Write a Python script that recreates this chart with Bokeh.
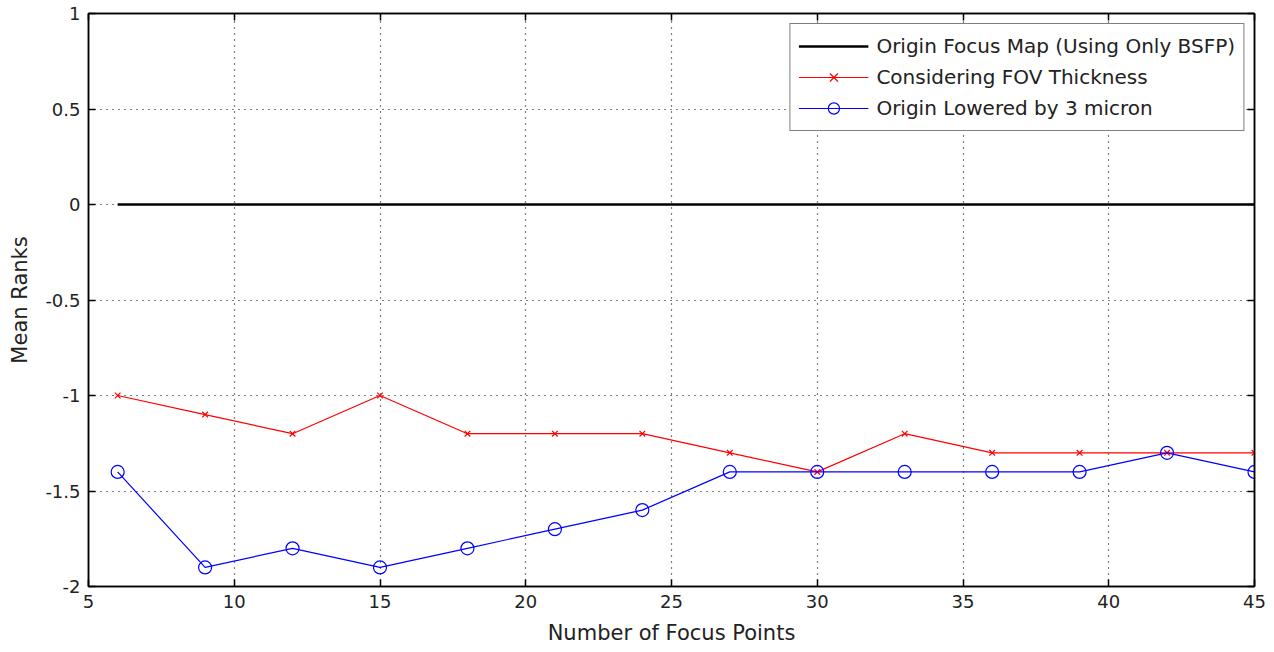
from bokeh.plotting import figure
from bokeh.models import Range1d, LinearAxis, FixedTicker, Legend, LegendItem
from bokeh.embed import file_html
from bokeh.resources import INLINE

focus_points = [6, 9, 12, 15, 18, 21, 24, 27, 30, 33, 36, 39, 42, 45]
origin_map = [0, 0, 0, 0, 0, 0, 0, 0, 0, 0, 0, 0, 0, 0]
fov_thickness = [-1.0, -1.1, -1.2, -1.0, -1.2, -1.2, -1.2, -1.3, -1.4, -1.2, -1.3, -1.3, -1.3, -1.3]
origin_lowered = [-1.4, -1.9, -1.8, -1.9, -1.8, -1.7, -1.6, -1.4, -1.4, -1.4, -1.4, -1.4, -1.3, -1.4]

x_ticks = [5, 10, 15, 20, 25, 30, 35, 40, 45]
y_ticks = [-2, -1.5, -1, -0.5, 0, 0.5, 1]
y_tick_labels = ["-2", "-1.5", "-1", "-0.5", "0", "0.5", "1"]

FONT = "DejaVu Sans"

p = figure(width=1274, height=652, output_backend="svg", toolbar_location=None,
           x_range=Range1d(5, 45), y_range=Range1d(-2, 1),
           min_border_left=88, min_border_right=20, min_border_top=13, min_border_bottom=66,
           x_axis_label="Number of Focus Points", y_axis_label="Mean Ranks")
p.background_fill_color = "white"
p.border_fill_color = "white"
p.outline_line_color = "black"
p.outline_line_width = 1.5

for ax in p.xaxis:
    ax.ticker = FixedTicker(ticks=x_ticks)
for ax in p.yaxis:
    ax.ticker = FixedTicker(ticks=y_ticks)
    ax.major_label_overrides = {t: l for t, l in zip(y_ticks, y_tick_labels)}

for ax in list(p.xaxis) + list(p.yaxis):
    ax.major_tick_in = 7
    ax.major_tick_out = 0
    ax.minor_tick_line_color = None
    ax.axis_line_color = "black"
    ax.axis_line_width = 1.5
    ax.major_tick_line_color = "black"
    ax.major_tick_line_width = 1.5
    ax.major_label_text_font = FONT
    ax.major_label_text_font_size = "18px"
    ax.major_label_text_color = "#222222"
    ax.axis_label_text_font = FONT
    ax.axis_label_text_font_size = "21px"
    ax.axis_label_text_font_style = "normal"
    ax.axis_label_text_color = "#222222"
    ax.major_label_standoff = 8
p.yaxis.axis_label_standoff = 10
p.xaxis.axis_label_standoff = 10

top_ax = LinearAxis(ticker=FixedTicker(ticks=x_ticks), major_tick_in=7, major_tick_out=0,
                    minor_tick_line_color=None, major_label_text_font_size="1px",
                    major_label_text_color=None,
                    axis_line_width=1.5, major_tick_line_width=1.5, major_label_standoff=0)
right_ax = LinearAxis(ticker=FixedTicker(ticks=y_ticks), major_tick_in=7, major_tick_out=0,
                      minor_tick_line_color=None, major_label_text_font_size="1px",
                      major_label_text_color=None,
                      axis_line_width=1.5, major_tick_line_width=1.5, major_label_standoff=0)
p.add_layout(top_ax, "above")
p.add_layout(right_ax, "right")

p.grid.grid_line_color = "black"
p.grid.grid_line_dash = "1 5"
p.grid.grid_line_width = 1.2

r0 = p.line(focus_points, origin_map, line_color="black", line_width=2.5)
r1 = p.line(focus_points, fov_thickness, line_color="red", line_width=1.2)
r1m = p.scatter(focus_points, fov_thickness, marker="x", size=8, line_color="red", line_width=1.2)
r2 = p.line(focus_points, origin_lowered, line_color="blue", line_width=1.2)
r2m = p.scatter(focus_points, origin_lowered, marker="circle", size=13, line_color="blue",
                fill_color=None, line_width=1.2)

legend = Legend(items=[
    LegendItem(label="Origin Focus Map (Using Only BSFP)", renderers=[r0]),
    LegendItem(label="Considering FOV Thickness", renderers=[r1, r1m]),
    LegendItem(label="Origin Lowered by 3 micron", renderers=[r2, r2m]),
], location="top_right")
legend.border_line_color = "black"
legend.border_line_width = 1.2
legend.background_fill_color = "white"
legend.background_fill_alpha = 1
legend.label_text_font = FONT
legend.label_text_font_size = "20px"
legend.label_text_color = "#222222"
legend.glyph_width = 70
legend.glyph_height = 28
legend.label_height = 28
legend.spacing = 3
legend.padding = 8
legend.margin = 10
legend.label_standoff = 8
p.add_layout(legend)

open("out.html", "w").write(file_html(p, INLINE))
